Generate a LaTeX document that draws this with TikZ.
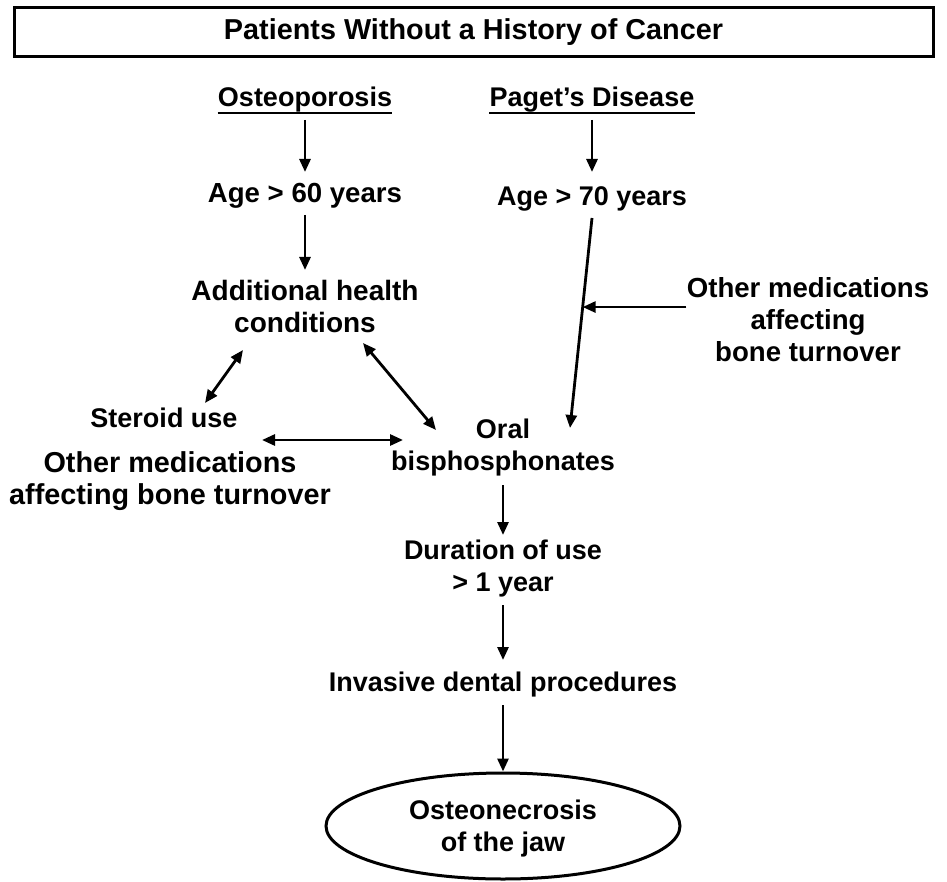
\documentclass[tikz,border=0pt]{standalone}
\usepackage{fontspec}
\setmainfont{Liberation Sans}
\usetikzlibrary{arrows.meta,shapes.geometric,calc}

\tikzset{
  lbl/.style={font=\bfseries\fontsize{13.5}{16}\selectfont, align=center, inner sep=0pt},
  lblbig/.style={lbl, font=\bfseries\fontsize{14.4}{16}\selectfont},
  uline/.style={line width=1pt},
  arr/.style={-{Triangle[length=6.5pt,width=5.5pt]}, line width=1.4pt},
  dbl/.style={{Triangle[length=6.5pt,width=5.5pt]}-{Triangle[length=6.5pt,width=5.5pt]}, line width=1.4pt},
}

\begin{document}
\begin{tikzpicture}[x=0.5pt,y=-0.5pt]
    \useasboundingbox (0,0) rectangle (947,882);

    \node (title) at (473.5,32.5) [draw, line width=1.5pt, minimum width=459.5pt, minimum height=24.5pt, lblbig] {Patients Without a History of Cancer};

    \node (osteo) at (305,100) [lbl] {Osteoporosis};
    \node (paget) at (592,100) [lbl] {Paget’s Disease};
    \draw[uline] ([yshift=-3pt]osteo.base west) -- ([yshift=-3pt]osteo.base east);
    \draw[uline] ([yshift=-3pt]paget.base west) -- ([yshift=-3pt]paget.base east);

    \node (age60) at (305,196) [lbl, font=\bfseries\fontsize{13.8}{16}\selectfont] {Age > 60 years};
    \node (age70) at (592,199) [lbl] {Age > 70 years};

    \node (addl) at (305,306) [lbl, font=\bfseries\fontsize{14}{16}\selectfont] {Additional health\\conditions};
    \node (othr) at (808,320) [lbl, font=\bfseries\fontsize{13.8}{16}\selectfont] {Other medications\\affecting\\bone turnover};

    \node (steroid) at (164,418) [lbl] {Steroid use};
    \node (othl) at (170,481) [lblbig] {Other medications\\affecting bone turnover};
    \node (oral) at (503,448) [lbl] {Oral\\bisphosphonates};

    \node (durat) at (503,569) [lbl] {Duration of use\\> 1 year};
    \node (invas) at (503,685) [lbl] {Invasive dental procedures};
    \node (onj) at (503,826) [draw, ellipse, line width=1.5pt, minimum width=177pt, minimum height=53pt, lbl, text depth=0pt] {Osteonecrosis\\of the jaw};

    % left branch
    \draw[arr] ($(osteo)+(0,20)$) -- ($(age60)+(0,-24)$);
    \draw[arr] ($(age60)+(0,19)$) -- ($(addl)+(0,-36)$);

    % right branch
    \draw[arr] ($(paget)+(0,20)$) -- ($(age70)+(0,-27)$);
    \draw[arr] ($(age70)+(0,19)$) -- coordinate[pos=0.424] (meet) ($(oral)+(67,-20)$);
    \draw[arr] (othr.west |- meet) -- (meet);

    % the triangle
    \draw[dbl] ($(addl)+(-62,44)$) -- ($(steroid)+(41,-15)$);
    \draw[dbl] ($(addl)+(58,37)$) -- ($(oral)+(-67,-18)$);
    \draw[dbl] ($(steroid)+(98,22)$) -- ($(oral)+(-100,-8)$);

    % down to the jaw
    \draw[arr] ($(oral)+(0,37)$) -- ($(durat)+(0,-34)$);
    \draw[arr] ($(durat)+(0,36)$) -- ($(invas)+(0,-25)$);
    \draw[arr] ($(invas)+(0,20)$) -- (onj.north);
\end{tikzpicture}
\end{document}
